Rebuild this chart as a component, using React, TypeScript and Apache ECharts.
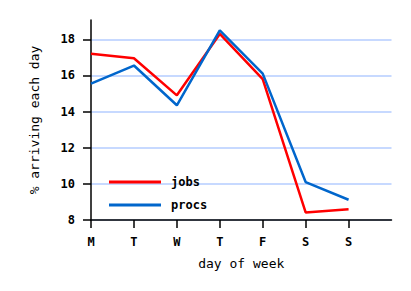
import React, { useEffect, useRef } from "react";
import * as echarts from "echarts";

const days = ["M", "T", "W", "T", "F", "S", "S", ""];
const jobs = [17.2, 16.95, 14.9, 18.3, 15.8, 8.42, 8.6];
const procs = [15.55, 16.55, 14.35, 18.5, 16.1, 10.1, 9.12];
const yTicks = [8, 10, 12, 14, 16, 18];

const FONT = "DejaVu Sans Mono";

export default function App() {
  const ref = useRef<HTMLDivElement>(null);
  useEffect(() => {
    const chart = echarts.init(ref.current!, null, { renderer: "svg" });
    chart.setOption({
      animation: false,
      backgroundColor: "#ffffff",
      grid: { left: 91, right: 19.5, top: 20, bottom: 71, containLabel: false },
      legend: {
        orient: "vertical",
        left: 104,
        top: 171,
        itemWidth: 52,
        itemHeight: 3,
        itemGap: 11,
        icon: "rect",
        textStyle: {
          fontFamily: FONT,
          fontWeight: "bold",
          fontSize: 12,
          color: "#000",
          padding: [0, 0, 0, 5],
        },
        data: ["jobs", "procs"],
      },
      xAxis: {
        type: "category",
        data: days,
        boundaryGap: false,
        name: "day of week",
        nameLocation: "middle",
        nameGap: 37,
        nameTextStyle: { fontFamily: FONT, fontSize: 13, color: "#000" },
        axisLine: { lineStyle: { color: "#000", width: 1.5 } },
        axisTick: {
          length: 8,
          lineStyle: { color: "#000", width: 1.5 },
          interval: (i: number) => i < 7,
        },
        axisLabel: {
          fontFamily: FONT,
          fontWeight: "bold",
          fontSize: 12,
          color: "#000",
          margin: 16,
          interval: 0,
        },
        splitLine: { show: false },
      },
      yAxis: {
        type: "value",
        min: 8,
        max: 19.07,
        interval: 2,
        name: "% arriving each day",
        nameLocation: "middle",
        nameGap: 50,
        nameTextStyle: { fontFamily: FONT, fontSize: 13, color: "#000" },
        axisLine: { show: true, lineStyle: { color: "#000", width: 1.5 } },
        axisTick: {
          show: true,
          length: 8,
          lineStyle: { color: "#000", width: 1.5 },
          customValues: yTicks,
        },
        axisLabel: {
          fontFamily: FONT,
          fontWeight: "bold",
          fontSize: 12,
          color: "#000",
          margin: 16,
          customValues: yTicks,
        },
        splitLine: { show: true, lineStyle: { color: "#b4ccff", width: 1.5 } },
      },
      series: [
        {
          name: "jobs",
          type: "line",
          data: jobs,
          symbol: "none",
          color: "#ff0000",
          lineStyle: { color: "#ff0000", width: 2.5 },
        },
        {
          name: "procs",
          type: "line",
          data: procs,
          symbol: "none",
          color: "#0066cc",
          lineStyle: { color: "#0066cc", width: 2.5 },
        },
      ],
    });
    return () => chart.dispose();
  }, []);
  return <div ref={ref} style={{ width: 411, height: 291, position: "absolute", left: 0, top: 0 }} />;
}
